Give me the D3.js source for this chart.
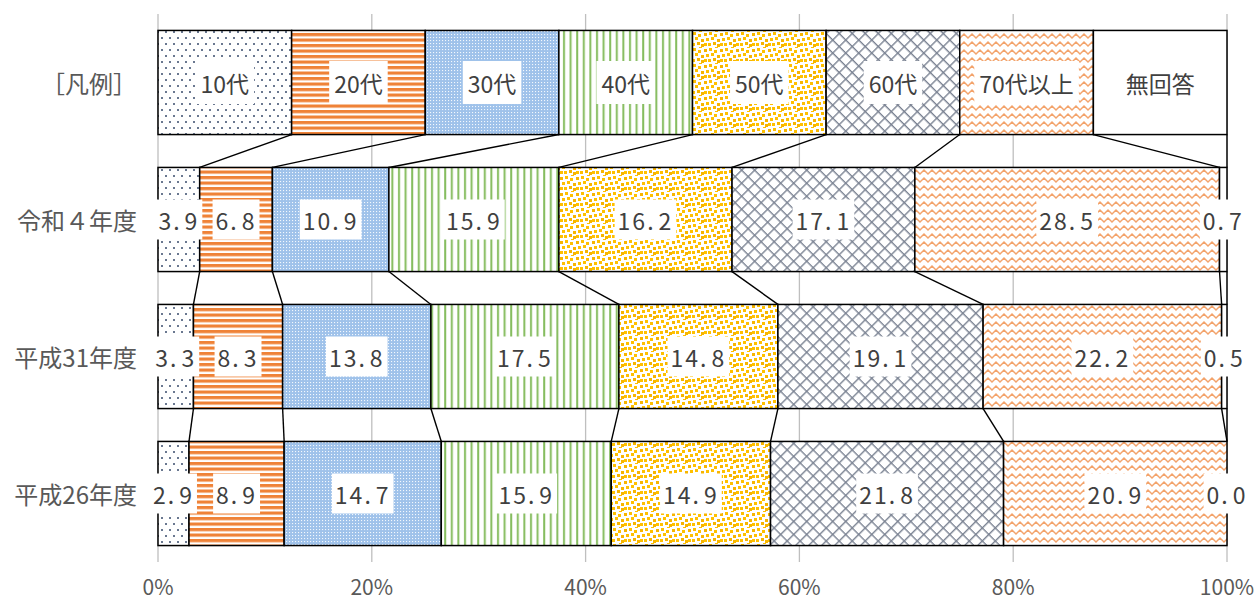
<!DOCTYPE html>
<html lang="ja">
<head>
<meta charset="utf-8">
<script src="https://cdn.jsdelivr.net/npm/d3@7"></script>
<style>
  html, body { margin: 0; padding: 0; background: #fff; }
  svg { display: block; font-family: "Noto Sans CJK JP", "Noto Sans", sans-serif; }
</style>
</head>
<body>
<svg id="chart" width="1254" height="601"></svg>
<script>
// Age groups (series) and the survey rows
const ageGroups = ["10代", "20代", "30代", "40代", "50代", "60代", "70代以上", "無回答"];
const legendRow = "［凡例］";
const years = ["令和４年度", "平成31年度", "平成26年度"];

// Share of respondents (%) per age group
const valuesR4  = [3.9, 6.8, 10.9, 15.9, 16.2, 17.1, 28.5, 0.7];
const valuesH31 = [3.3, 8.3, 13.8, 17.5, 14.8, 19.1, 22.2, 0.5];
const valuesH26 = [2.9, 8.9, 14.7, 15.9, 14.9, 21.8, 20.9, 0.0];

const xTicks = [0, 20, 40, 60, 80, 100];
const xTickLabels = ["0%", "20%", "40%", "60%", "80%", "100%"];

const svg = d3.select("#chart");
const defs = svg.append("defs");

// ---- fill patterns, one per age group ----
function pat(id, w, h, bg, transform) {
  const p = defs.append("pattern").attr("id", id)
    .attr("patternUnits", "userSpaceOnUse").attr("width", w).attr("height", h);
  if (transform) p.attr("patternTransform", transform);
  p.append("rect").attr("width", w).attr("height", h).attr("fill", bg);
  return p;
}
// dotted grid
{
  const p = pat("p0", 8, 12, "#fff");
  [[1, 1], [5, 7]].forEach(([x, y]) =>
    p.append("rect").attr("x", x).attr("y", y).attr("width", 2).attr("height", 2).attr("fill", "#6a7890"));
}
// horizontal stripes
{
  const p = pat("p1", 8, 5.5, "#fff");
  p.append("rect").attr("y", 0).attr("width", 8).attr("height", 3.2).attr("fill", "#ef8237");
}
// fine blue check
{
  const p = pat("p2", 3, 3, "#9fc2ea");
  p.append("rect").attr("x", 1).attr("y", 1).attr("width", 1.1).attr("height", 1.1).attr("fill", "#f3f8fd");
}
// vertical stripes
{
  const p = pat("p3", 6.6, 10, "#fff");
  p.append("rect").attr("x", 2).attr("width", 2).attr("height", 10).attr("fill", "#86bd5f");
}
// confetti squares
{
  const p = pat("p4", 16, 16, "#fff");
  [[0, 1], [5, 0], [10, 2], [13, 7], [2, 6], [7, 5], [9, 10], [4, 11], [0, 11], [13, 12], [11, 15]]
    .forEach(([x, y], i) =>
      p.append("rect").attr("x", x).attr("y", y).attr("width", 3).attr("height", 3)
        .attr("fill", i % 3 === 0 ? "#f7b500" : "#ffc000"));
}
// diamond lattice
{
  const s = 9.2;
  const p = pat("p5", s, s, "#fff", "rotate(45)");
  p.append("path").attr("d", `M0,0.7H${s}M0.7,0V${s}`).attr("stroke", "#7a8292").attr("stroke-width", 1.4).attr("fill", "none");
}
// zigzag waves
{
  const p = pat("p6", 8, 8, "#fff");
  p.append("path").attr("d", "M-4,2L0,6L4,2L8,6L12,2").attr("stroke", "#f3a36b").attr("stroke-width", 1.5).attr("fill", "none");
}
// no answer: plain white
pat("p7", 4, 4, "#fff");

// ---- scales ----
const x = d3.scaleLinear().domain([0, 100]).range([158, 1227]);
const rows = [legendRow, ...years];
const y = d3.scaleBand().domain(rows).range([14, 562]).paddingInner(0.24).paddingOuter(0.12);

// Build stacked rows (100% stacked, each row normalised by its own total)
const legendValues = ageGroups.map(() => 100 / ageGroups.length);
const rowValues = [legendValues, valuesR4, valuesH31, valuesH26];
const stacked = rowValues.map((vals, r) => {
  const total = d3.sum(vals);
  let acc = 0;
  return vals.map((v, i) => {
    const x0 = acc / total * 100;
    acc += v;
    return { row: rows[r], r, i, value: v, x0, x1: acc / total * 100 };
  });
});

// ---- gridlines ----
svg.append("g").selectAll("line").data(xTicks).join("line")
  .attr("x1", d => x(d)).attr("x2", d => x(d))
  .attr("y1", 14).attr("y2", 562)
  .attr("stroke", "#bfbfbf").attr("stroke-width", 1.3);

// ---- bars ----
svg.append("g").selectAll("rect").data(stacked.flat()).join("rect")
  .attr("x", d => x(d.x0)).attr("width", d => x(d.x1) - x(d.x0))
  .attr("y", d => y(d.row)).attr("height", y.bandwidth())
  .attr("fill", d => `url(#p${d.i})`)
  .attr("stroke", "#000").attr("stroke-width", 1.5);

// ---- series lines joining segment boundaries between rows ----
const links = [];
for (let r = 1; r < stacked.length; r++) {
  stacked[r].forEach((d, i) => {
    const prev = stacked[r - 1][i];
    links.push({ xa: prev.x1, ya: y(rows[r - 1]) + y.bandwidth(), xb: d.x1, yb: y(rows[r]) });
  });
}
svg.append("g").selectAll("line").data(links).join("line")
  .attr("x1", d => x(d.xa)).attr("y1", d => d.ya)
  .attr("x2", d => x(d.xb)).attr("y2", d => d.yb)
  .attr("stroke", "#000").attr("stroke-width", 1.4);

// ---- segment labels with white boxes ----
const labelData = stacked.flat().map(d => ({
  ...d,
  text: d.r === 0 ? ageGroups[d.i] : d.value.toFixed(1),
  cx: x((d.x0 + d.x1) / 2),
  cy: y(d.row) + y.bandwidth() / 2
}));
const lg = svg.append("g").selectAll("g").data(labelData).join("g");
const texts = lg.append("text")
  .attr("x", d => d.cx).attr("y", d => d.cy)
  .attr("text-anchor", "middle").attr("dominant-baseline", "central")
  .attr("font-size", 23).attr("fill", "#404040")
  .style("letter-spacing", d => d.r === 0 ? "0px" : "2px");
texts.each(function (d) {
  const t = d3.select(this);
  if (d.r === 0) { t.text(d.text); return; }
  // numeric label: a little extra room after the decimal point
  const [whole, frac] = d.text.split(".");
  t.append("tspan").text(whole + ".");
  t.append("tspan").attr("dx", 3).text(frac);
});
texts.each(function (d) {
  const bb = this.getBBox();
  const ls = d.r === 0 ? 0 : 2;
  const padX = d.r === 0 ? 5 : 4;
  const h = d.r === 0 ? 43 : 40;
  d3.select(this.parentNode).insert("rect", "text")
    .attr("x", bb.x - padX + ls / 2).attr("width", bb.width - ls + padX * 2)
    .attr("y", d.cy - h / 2).attr("height", h)
    .attr("fill", "#fff");
});

// ---- category labels ----
svg.append("g").selectAll("text").data(rows).join("text")
  .attr("x", 137).attr("y", d => y(d) + y.bandwidth() / 2)
  .attr("text-anchor", "end").attr("dominant-baseline", "central")
  .attr("font-size", 24).attr("fill", "#595959")
  .text(d => d);

// ---- x-axis labels ----
svg.append("g").selectAll("text").data(xTicks).join("text")
  .attr("x", d => x(d)).attr("y", 586)
  .attr("text-anchor", "middle").attr("dominant-baseline", "central")
  .attr("font-size", 21).attr("fill", "#595959")
  .text((d, i) => xTickLabels[i]);
</script>
</body>
</html>
